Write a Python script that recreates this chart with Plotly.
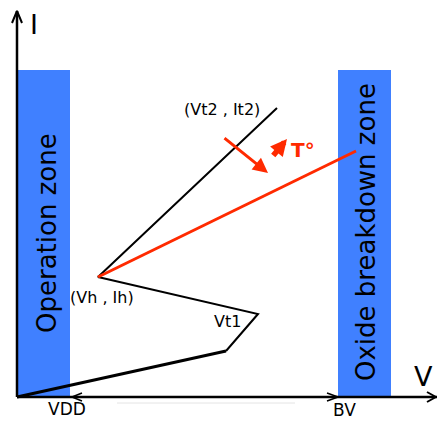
import plotly.graph_objects as go

# ---- data (diagram coordinates, pixel-like: x right, y down) ----
curve_v = [17, 226, 258, 98, 277]          # snapback I-V curve
curve_i = [397, 351, 314, 277, 108]
red_v = [98, 356]                          # high-temperature branch
red_i = [277, 151]
zone_left = [17, 70]                       # operation zone (x extent)
zone_right = [338, 391]                    # oxide breakdown zone
zone_top, zone_bottom = 70, 397
axis_origin = (17, 397)
axis_ends = (437, 11)
labels = ["(Vt2 , It2)", "(Vh , Ih)", "Vt1", "T°", "VDD", "BV", "I", "V"]
label_x = [222, 102, 227, 303, 67, 344, 34, 423]
label_y = [109, 297, 321, 150, 409, 410, 24, 376]

RED = "#FF2A00"
BLUE = "#4080FF"
FONT = "DejaVu Sans"

fig = go.Figure()

# zones
for (x0, x1) in (zone_left, zone_right):
    fig.add_shape(type="rect", x0=x0, x1=x1, y0=zone_top, y1=zone_bottom,
                  fillcolor=BLUE, line=dict(width=0), layer="below")

# faint grey line under axis
fig.add_shape(type="line", x0=117, x1=295, y0=403, y1=403,
              line=dict(color="#e4e4e4", width=1), layer="below")

# curve
fig.add_trace(go.Scatter(x=curve_v[:2], y=curve_i[:2], mode="lines",
                         line=dict(color="black", width=3), hoverinfo="skip"))
fig.add_trace(go.Scatter(x=curve_v[1:], y=curve_i[1:], mode="lines",
                         line=dict(color="black", width=2), hoverinfo="skip"))
fig.add_trace(go.Scatter(x=red_v, y=red_i, mode="lines",
                         line=dict(color=RED, width=3), hoverinfo="skip"))

# axes
ox, oy = axis_origin
ex, ey = axis_ends
fig.add_trace(go.Scatter(x=[ox, ox], y=[oy, ey], mode="lines",
                         line=dict(color="black", width=2.5), hoverinfo="skip"))
fig.add_trace(go.Scatter(x=[ox, ex], y=[oy, oy], mode="lines",
                         line=dict(color="black", width=2.5), hoverinfo="skip"))
# open chevrons
fig.add_trace(go.Scatter(x=[ox - 5, ox, ox + 5], y=[ey + 12, ey, ey + 12], mode="lines",
                         line=dict(color="black", width=2), hoverinfo="skip"))
fig.add_trace(go.Scatter(x=[ex - 10, ex - 1, ex - 10], y=[oy - 5, oy, oy + 5], mode="lines",
                         line=dict(color="black", width=2), hoverinfo="skip"))
fig.add_trace(go.Scatter(x=[zone_left[1] + 12, zone_left[1] + 2, zone_left[1] + 12],
                         y=[oy - 4, oy, oy + 4], mode="lines",
                         line=dict(color="black", width=1.5), hoverinfo="skip"))
fig.add_trace(go.Scatter(x=[zone_right[0] - 11, zone_right[0], zone_right[0] - 11],
                         y=[oy - 4, oy, oy + 4], mode="lines",
                         line=dict(color="black", width=1.5), hoverinfo="skip"))

# red arrows
fig.add_annotation(x=268, y=173, ax=223, ay=137, axref="x", ayref="y", xref="x", yref="y",
                   text="", showarrow=True, arrowhead=2, arrowsize=1, arrowwidth=3,
                   arrowcolor=RED)
fig.add_annotation(x=287, y=139, ax=272, ay=157, axref="x", ayref="y", xref="x", yref="y",
                   text="", showarrow=True, arrowhead=2, arrowsize=0.6, arrowwidth=5.5,
                   arrowcolor=RED)

# labels
sizes = [16, 16, 16, 20, 17, 17, 27, 27]
for t, x, y, s in zip(labels, label_x, label_y, sizes):
    fig.add_annotation(x=x, y=y, text=("<b>%s</b>" % t) if t == "T°" else t,
                       showarrow=False, xanchor="center", yanchor="middle",
                       font=dict(family=FONT, size=s, color=RED if t == "T°" else "black"))

fig.add_annotation(x=47, y=233, text="Operation zone", textangle=-90, showarrow=False,
                   xanchor="center", yanchor="middle", font=dict(family=FONT, size=26, color="black"))
fig.add_annotation(x=366, y=232, text="Oxide breakdown zone", textangle=-90, showarrow=False,
                   xanchor="center", yanchor="middle", font=dict(family=FONT, size=26, color="black"))

W, H = 437, 421
fig.update_layout(width=W, height=H,
                  margin=dict(l=0, r=0, t=0, b=0),
                  paper_bgcolor="white", plot_bgcolor="white", showlegend=False,
                  xaxis=dict(range=[0, W], visible=False, fixedrange=True),
                  yaxis=dict(range=[H, 0], visible=False, fixedrange=True))

fig.write_html("out.html", config={"displayModeBar": False},
               post_script="document.body.style.margin='0';"
                           "document.body.style.overflow='hidden';")
